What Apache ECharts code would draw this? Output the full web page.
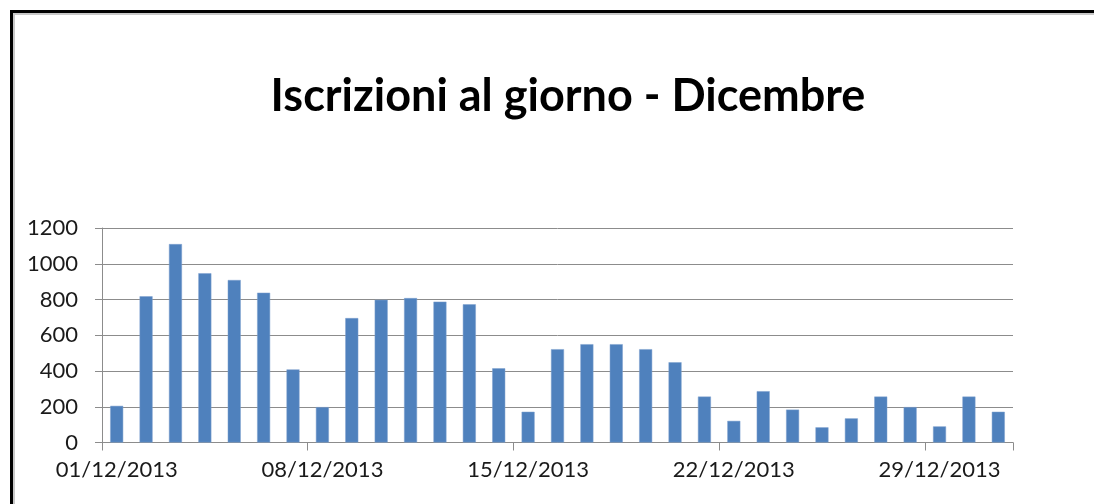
<!DOCTYPE html>
<html>
<head>
<meta charset="utf-8">
<script src="https://cdn.jsdelivr.net/npm/echarts@6/dist/echarts.min.js"></script>
<style>
  html, body { margin: 0; padding: 0; background: #fff; }
  #wrap { position: relative; width: 1094px; height: 504px; overflow: hidden; }
  #frame { position: absolute; left: 10px; top: 10px; width: 1200px; height: 600px;
           border-left: 3px solid #000; border-top: 3px solid #000;
           box-shadow: inset 2px 2px 0 #c8c8c8; }
  #chart { position: absolute; left: 0; top: 0; width: 1094px; height: 504px; }
</style>
</head>
<body>
<div id="wrap">
  <div id="frame"></div>
  <div id="chart"></div>
</div>
<script>
const chartTitle = 'Iscrizioni al giorno - Dicembre';
const days = ['01/12/2013','02/12/2013','03/12/2013','04/12/2013','05/12/2013','06/12/2013','07/12/2013',
  '08/12/2013','09/12/2013','10/12/2013','11/12/2013','12/12/2013','13/12/2013','14/12/2013',
  '15/12/2013','16/12/2013','17/12/2013','18/12/2013','19/12/2013','20/12/2013','21/12/2013',
  '22/12/2013','23/12/2013','24/12/2013','25/12/2013','26/12/2013','27/12/2013','28/12/2013',
  '29/12/2013','30/12/2013','31/12/2013'];
const iscrizioni = [205, 818, 1110, 947, 909, 838, 409, 198, 696, 798, 808, 788, 773, 415, 172,
  522, 550, 550, 522, 449, 257, 121, 287, 184, 85, 135, 257, 198, 90, 257, 172];
const yTicks = [0, 200, 400, 600, 800, 1000, 1200];

const chart = echarts.init(document.getElementById('chart'), null, { renderer: 'canvas' });
const gridColor = '#8c8c8c';
const labelFont = { fontFamily: 'Lato, "Open Sans", sans-serif', fontSize: 22, color: '#1a1a1a' };
chart.setOption({
  animation: false,
  backgroundColor: 'transparent',
  title: {
    text: chartTitle,
    left: 563, textAlign: 'center',
    top: 69,
    textStyle: { fontFamily: 'Lato, "Open Sans", sans-serif', fontWeight: 'bold', fontSize: 45, color: '#000' }
  },
  grid: { left: 102, right: 81, top: 228, bottom: 61.5, containLabel: false },
  xAxis: {
    type: 'category',
    data: days,
    boundaryGap: true,
    axisLine: { show: true, lineStyle: { color: gridColor, width: 1 } },
    axisTick: { show: true, length: 8, alignWithLabel: false,
                interval: function (i) { return i % 7 === 0 && i < days.length; },
                lineStyle: { color: gridColor } },
    axisLabel: Object.assign({ interval: 6, margin: 16 }, labelFont),
    splitLine: { show: false }
  },
  yAxis: {
    type: 'value',
    min: yTicks[0], max: yTicks[yTicks.length - 1], interval: 200,
    axisLine: { show: true, lineStyle: { color: gridColor, width: 1 } },
    axisTick: { show: true, inside: false, length: 7, lineStyle: { color: gridColor } },
    axisLabel: Object.assign({ margin: 24, formatter: function (v) { return String(v); } }, labelFont),
    splitLine: { show: true, lineStyle: { color: gridColor, width: 1 } }
  },
  series: [{
    type: 'bar',
    data: iscrizioni,
    barWidth: 13,
    itemStyle: { color: '#4f81bd', borderColor: '#7ea1cf', borderWidth: 0.5 }
  }]
});
</script>
</body>
</html>
